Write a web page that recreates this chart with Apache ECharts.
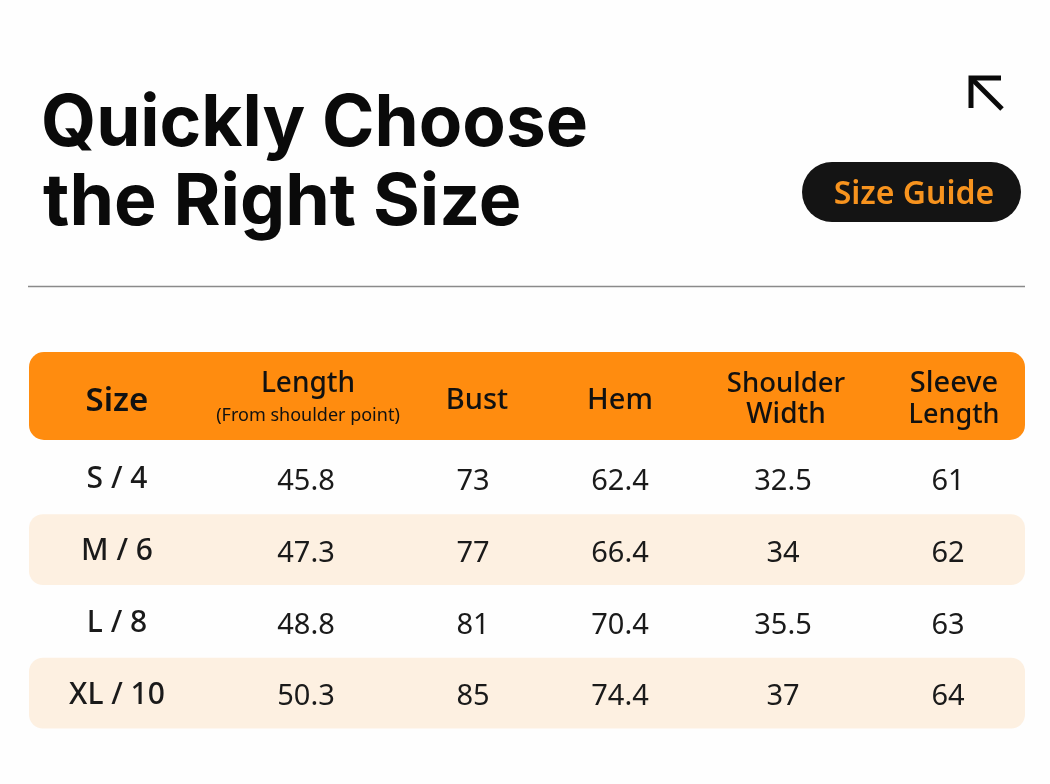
<!DOCTYPE html>
<html>
<head>
<meta charset="utf-8">
<style>
html, body { margin: 0; padding: 0; background: #fefefe; }
#chart { width: 1050px; height: 784px; }
</style>
<script src="https://cdn.jsdelivr.net/npm/echarts@6/dist/echarts.min.js"></script>
</head>
<body>
<div id="chart"></div>
<script>
// table content
var sizes = ['S / 4', 'M / 6', 'L / 8', 'XL / 10'];
var lengths = ['45.8', '47.3', '48.8', '50.3'];
var busts = ['73', '77', '81', '85'];
var hems = ['62.4', '66.4', '70.4', '74.4'];
var shoulders = ['32.5', '34', '35.5', '37'];
var sleeves = ['61', '62', '63', '64'];
var titleLines = ['Quickly Choose', 'the Right Size'];
var badgeText = 'Size Guide';

// column centres, in x axis units
var columnX = [117, 306, 473, 620, 783, 948];
var columns = [sizes, lengths, busts, hems, shoulders, sleeves];

var FONT = '"Noto Sans", sans-serif';
var ORANGE = '#ff8c0f';

function headerText(x, y, text, size, weight) {
    return {
        type: 'text',
        x: x,
        y: y,
        style: {
            text: text,
            fill: '#111',
            font: (weight || 500) + ' ' + size + 'px ' + FONT,
            align: 'center',
            verticalAlign: 'middle'
        }
    };
}

function titleText(x, y, text, size) {
    return {
        type: 'text',
        x: x,
        y: y,
        style: { text: text, fill: '#0a0a0a', font: '700 ' + size + 'px Inter, sans-serif', verticalAlign: 'middle' }
    };
}

function renderRow(params, api) {
    var row = api.value(0);
    var cy = api.coord([0, row])[1];
    var band = api.size([0, 1])[1];
    var left = api.coord([29, row])[0];
    var right = api.coord([1025, row])[0];
    var children = [];
    // every second row has a tinted band
    if (row % 2 === 1) {
        children.push({
            type: 'rect',
            shape: { x: left, y: cy - band / 2 + 0.5, width: right - left, height: band - 1, r: 14 },
            style: { fill: '#fdf0e1' }
        });
    }
    columns.forEach(function (col, i) {
        children.push({
            type: 'text',
            x: api.coord([columnX[i], row])[0],
            y: cy + (i === 0 ? 2 : 4),
            style: {
                text: col[row],
                fill: '#1a1a1a',
                font: (i === 0 ? '500 30px ' : '400 29px ') + FONT,
                align: 'center',
                verticalAlign: 'middle'
            }
        });
    });
    return { type: 'group', children: children };
}

var myChart = echarts.init(document.getElementById('chart'), null, { renderer: 'canvas' });

var option = {
    backgroundColor: '#fefefe',
    animation: false,
    grid: { left: 0, right: 0, top: 442, height: 287 },
    xAxis: { type: 'value', min: 0, max: 1050, show: false },
    yAxis: { type: 'category', inverse: true, data: sizes, show: false },
    graphic: [
        titleText(41, 125, titleLines[0], 71),
        titleText(43, 203, titleLines[1], 71.6),
        {
            type: 'polyline',
            shape: { points: [[971, 108], [971, 78], [1001, 78]] },
            style: { stroke: '#0a0a0a', lineWidth: 5, fill: null }
        },
        {
            type: 'line',
            shape: { x1: 971, y1: 78, x2: 1002, y2: 109 },
            style: { stroke: '#0a0a0a', lineWidth: 5 }
        },
        {
            type: 'rect',
            shape: { x: 802, y: 162, width: 219, height: 60, r: 30 },
            style: { fill: '#141414' }
        },
        {
            type: 'text', x: 914, y: 195,
            style: { text: badgeText, fill: '#f7931e', font: '600 32px ' + FONT, align: 'center', verticalAlign: 'middle' }
        },
        {
            type: 'line',
            shape: { x1: 28, y1: 286.5, x2: 1025, y2: 286.5 },
            style: { stroke: '#8a8a8a', lineWidth: 1.5 }
        },
        {
            type: 'rect',
            shape: { x: 29, y: 352, width: 996, height: 88, r: 15 },
            style: { fill: ORANGE }
        },
        headerText(117, 402, 'Size', 33, 600),
        headerText(308, 384, 'Length', 28),
        headerText(308, 416, '(From shoulder point)', 18, 400),
        headerText(477, 401, 'Bust', 29),
        headerText(620, 401, 'Hem', 29),
        headerText(786, 384, 'Shoulder', 27.5),
        headerText(786, 415, 'Width', 28),
        headerText(954, 384, 'Sleeve', 29),
        headerText(954, 415, 'Length', 27)
    ],
    series: [{
        type: 'custom',
        coordinateSystem: 'cartesian2d',
        silent: true,
        data: sizes.map(function (s, i) { return [i]; }),
        encode: { y: 0 },
        renderItem: renderRow
    }]
};

myChart.setOption(option);
</script>
</body>
</html>
